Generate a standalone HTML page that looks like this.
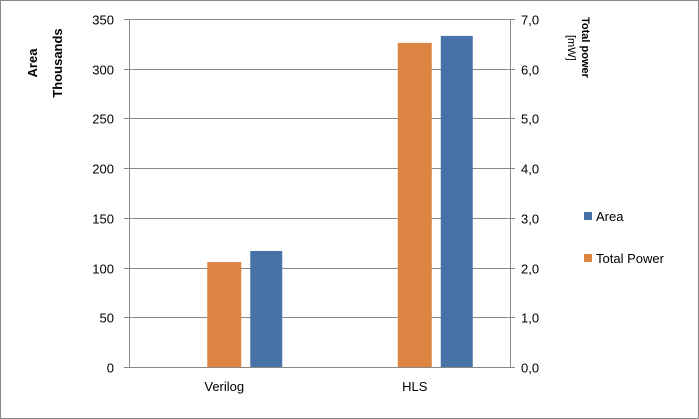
<!DOCTYPE html>
<html><head><meta charset="utf-8"><style>
html,body{margin:0;padding:0;background:#fff}
svg{display:block;font-family:"Liberation Sans",Calibri,sans-serif}
</style></head><body>
<svg id="chart" width="699" height="419" viewBox="0 0 699 419" xmlns="http://www.w3.org/2000/svg">
<rect x="0.5" y="0.5" width="698" height="418" fill="#fff" stroke="#888"/>
<g id="grid"></g><g id="bars"></g><g id="axes"></g>
<text transform="translate(37,63) rotate(-90)" text-anchor="middle" font-size="13" font-weight="bold">Area</text>
<text transform="translate(62,63) rotate(-90)" text-anchor="middle" font-size="13" font-weight="bold">Thousands</text>
<text transform="translate(582,17) rotate(90)" text-anchor="start" font-size="11" font-weight="bold">Total power</text>
<text transform="translate(568,35) rotate(90)" text-anchor="start" font-size="11">[mW]</text>
<rect x="584" y="212" width="8" height="8" fill="#4672A8"/>
<text x="596" y="221" font-size="13">Area</text>
<rect x="584" y="254" width="8" height="8" fill="#DD8442"/>
<text x="596" y="263" font-size="13">Total Power</text>
</svg>
<script>
const categories = ["Verilog", "HLS"];
const areaValues = [116.7, 333];
const powerValues = [2.11, 6.52];
const leftTicks = [0, 50, 100, 150, 200, 250, 300, 350];
const rightTicks = ["0,0", "1,0", "2,0", "3,0", "4,0", "5,0", "6,0", "7,0"];

const NS = "http://www.w3.org/2000/svg";
const X0 = 129, X1 = 510, Y0 = 367, Y1 = 19;
const yL = v => Y0 - v / 350 * (Y0 - Y1);
const yR = v => Y0 - v / 7 * (Y0 - Y1);
const band = (X1 - X0) / categories.length;
function mk(tag, attrs, parent) {
  const e = document.createElementNS(NS, tag);
  for (const k in attrs) e.setAttribute(k, attrs[k]);
  parent.appendChild(e);
  return e;
}
const grid = document.getElementById("grid"), bars = document.getElementById("bars"), axes = document.getElementById("axes");
leftTicks.forEach((t, i) => {
  const y = Math.round(yL(t)) + 0.5;
  const g = mk("line", {x1: X0 - 5, x2: X1 + 5, y1: y, y2: y, stroke: "#888", "stroke-width": 1}, grid);
  
  
  const lt = mk("text", {x: 114, y: y + 5, "text-anchor": "end", "font-size": 13}, axes);
  lt.textContent = t;
  
  
  const rt = mk("text", {x: 521, y: y + 5, "font-size": 13}, axes);
  rt.textContent = rightTicks[i];
  
  
});
const la = mk("line", {x1: X0 + 0.5, x2: X0 + 0.5, y1: Y1, y2: Y0 + 1, stroke: "#888"}, axes);


const ra = mk("line", {x1: X1 + 0.5, x2: X1 + 0.5, y1: Y1, y2: Y0 + 1, stroke: "#888"}, axes);


categories.forEach((c, i) => {
  const cx = X0 + band * (i + 0.5);
  const py = yR(powerValues[i]);
  const pb = mk("rect", {x: cx - 17, y: py, width: 34, height: Y0 - py, fill: "#DD8442"}, bars);
  
  
  const ay = yL(areaValues[i]);
  const ab = mk("rect", {x: cx + 26, y: ay, width: 32, height: Y0 - ay, fill: "#4672A8"}, bars);
  
  
  const xl = mk("text", {x: cx, y: 391, "text-anchor": "middle", "font-size": 13}, axes);
  xl.textContent = c;
  
  
});
</script>
</body></html>
